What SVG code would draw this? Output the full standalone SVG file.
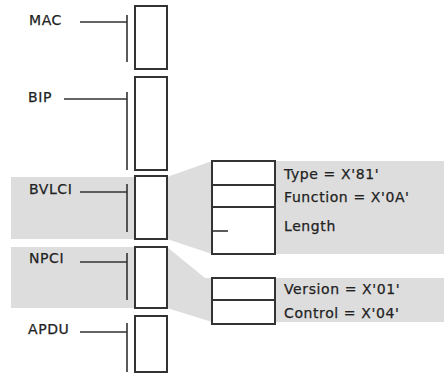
<svg xmlns="http://www.w3.org/2000/svg" width="444" height="377" viewBox="0 0 444 377">
<style>
.band{fill:#dddddd;stroke:none}
.box{fill:#ffffff;stroke:#333333;stroke-width:2}
.ln{stroke:#333333;stroke-width:1.6;fill:none}
text{font-family:"DejaVu Sans","Liberation Sans",sans-serif;font-size:14px;fill:#222222;letter-spacing:0.6px;stroke:#222222;stroke-width:0.25px}
</style>
<rect width="444" height="377" fill="#ffffff"/>
<g id="bands">
<polygon class="band" points="11,177 167,177 212,161 444,161 444,254 212,254 167,239 11,239"/>
<polygon class="band" points="11,247 167,247 205,278 444,278 444,322 212,322 167,308 11,308"/>
</g>
<g id="connectors">
<path class="ln" d="M80,22H127M127,15V62"/>
<path class="ln" d="M64,99H127M127,92V170"/>
<path class="ln" d="M80,192H127M127,184V232"/>
<path class="ln" d="M80,262H127M127,253V300"/>
<path class="ln" d="M80,332H127M127,323V372"/>
</g>
<g id="mac"><rect class="box" x="135" y="6" width="32" height="63"/><text x="29" y="25">MAC</text></g>
<g id="bip"><rect class="box" x="135" y="77" width="32" height="93"/><text x="28" y="102">BIP</text></g>
<g id="bvlci"><rect class="box" x="135" y="176" width="32" height="63"/><text x="29" y="194">BVLCI</text></g>
<g id="npci"><rect class="box" x="135" y="247" width="32" height="61"/><text x="29" y="263">NPCI</text></g>
<g id="apdu"><rect class="box" x="135" y="316" width="32" height="56"/><text x="28" y="334">APDU</text></g>
<g id="bvlci-detail">
<rect class="box" x="212" y="161" width="63" height="24"/>
<rect class="box" x="212" y="185" width="63" height="22"/>
<rect class="box" x="212" y="207" width="63" height="47"/>
<path class="ln" d="M212,231H228"/>
<text x="284" y="179">Type = X'81'</text>
<text x="284" y="202">Function = X'0A'</text>
<text x="284" y="231">Length</text>
</g>
<g id="npci-detail">
<rect class="box" x="212" y="278" width="63" height="22"/>
<rect class="box" x="212" y="300" width="63" height="24"/>
<text x="284" y="294">Version = X'01'</text>
<text x="284" y="318">Control = X'04'</text>
</g>
</svg>
